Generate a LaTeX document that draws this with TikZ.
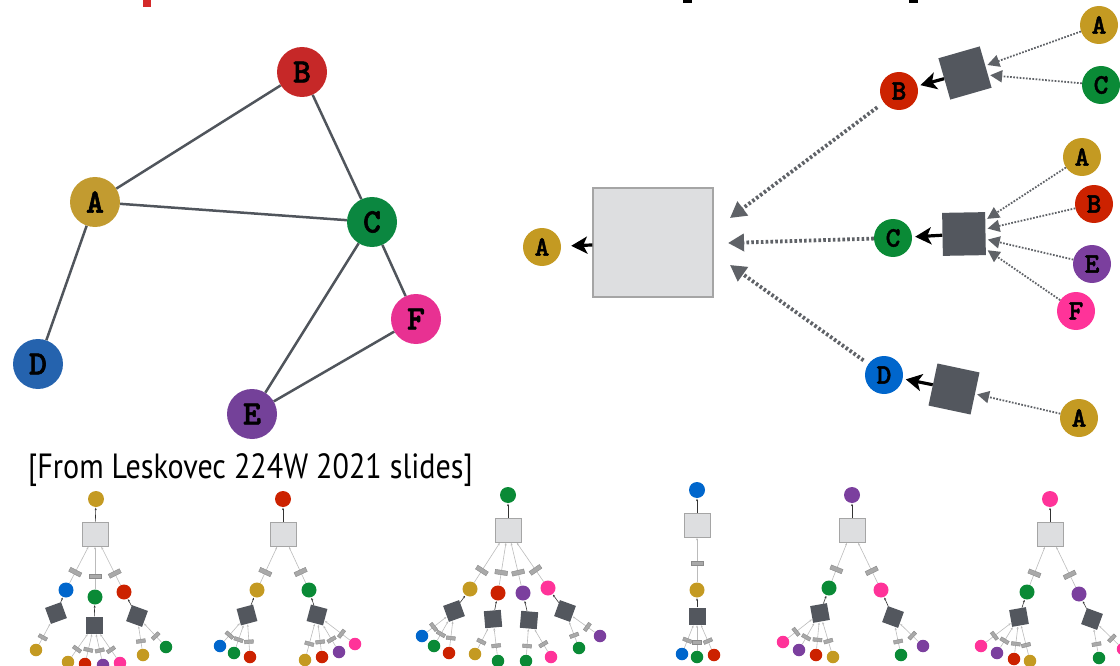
\documentclass[tikz,border=0pt]{standalone}
\usepackage{fontspec}
\usetikzlibrary{arrows.meta}
\newfontfamily\capfont{PT Sans}[FakeStretch=0.86]
\newfontfamily\lettfont{lmmonolt10-bold.otf}[FakeBold=1.8]
% left graph colours
\definecolor{lA}{HTML}{C29B30}
\definecolor{lB}{HTML}{C62828}
\definecolor{lC}{HTML}{0B8740}
\definecolor{lD}{HTML}{2563AE}
\definecolor{lE}{HTML}{744199}
\definecolor{lF}{HTML}{E83192}
% right / mini colours
\definecolor{mG}{HTML}{C49A22}
\definecolor{mB}{HTML}{0066CC}
\definecolor{mGr}{HTML}{0A8A36}
\definecolor{mR}{HTML}{CC2200}
\definecolor{mP}{HTML}{7B3F9E}
\definecolor{mK}{HTML}{FF3399}
\definecolor{edgec}{HTML}{50555C}
\definecolor{bigf}{HTML}{DDDEE0}
\definecolor{bigb}{HTML}{A5A5A5}
\definecolor{aggc}{HTML}{53575E}
\definecolor{dotc}{HTML}{5F6267}
\definecolor{meg}{HTML}{BBBBBB}
\definecolor{mkf}{HTML}{A9A9A9}
\definecolor{mkd}{HTML}{8A8A8A}
\definecolor{redmark}{HTML}{D42A2A}
\begin{document}
\begin{tikzpicture}[x=1pt,y=-1pt,
  gn/.style={circle, fill=#1, minimum size=50pt, inner sep=0pt, font=\lettfont\fontsize{34}{34}\selectfont},
  cn/.style={circle, fill=#1, minimum size=38pt, inner sep=0pt, font=\lettfont\fontsize{28}{28}\selectfont},
  ge/.style={draw=edgec, line width=2.5pt},
  big/.style={draw=bigb, fill=bigf, line width=1.2pt, minimum width=120pt, minimum height=109pt, inner sep=0pt},
  agg/.style={fill=aggc, minimum size=43pt, inner sep=0pt},
  solidarr/.style={draw=black, line width=3.2pt, -{Stealth[length=16pt,width=17pt,inset=4pt]}, shorten >=3pt},
  bigdot/.style={draw=dotc, line width=3.8pt, dash pattern=on 2.6pt off 2.2pt, -{Triangle[length=16pt,width=17pt]}},
  smalldot/.style={draw=dotc, line width=1.8pt, dash pattern=on 1.7pt off 1.5pt, -{Triangle[length=12pt,width=12pt]}, shorten >=2pt},
  mr/.style={circle, fill=#1, minimum size=16pt, inner sep=0pt},
  mc/.style={circle, fill=#1, minimum size=15pt, inner sep=0pt},
  mg/.style={circle, fill=#1, minimum size=12.5pt, inner sep=0pt},
  ms/.style={draw=bigb, fill=bigf, line width=0.8pt, minimum width=26pt, minimum height=24pt, inner sep=0pt},
  md/.style={fill=aggc, minimum size=17pt, inner sep=0pt},
  mk/.style={fill=mkf, draw=mkd, line width=0.4pt, minimum width=4.5pt, minimum height=12.5pt, inner sep=0pt, sloped, pos=0.3},
  mks/.style={fill=mkf, draw=mkd, line width=0.4pt, minimum width=3.6pt, minimum height=9pt, inner sep=0pt, sloped, pos=0.33},
  me/.style={draw=meg, line width=0.6pt, -{Stealth[length=2.5pt,width=2pt]}, shorten >=0.5pt},
  mup/.style={draw=black!80, line width=0.6pt, -{Stealth[length=2.5pt,width=2pt]}, shorten >=0.5pt},
]
\useasboundingbox (0,0) rectangle (1120,666);
\clip (0,0) rectangle (1120,666);

% cropped remnants at the top
\fill[redmark] (143,0) rectangle (151,7);
\fill[black] (683,0) rectangle (692,3);
\fill[black] (909,0) rectangle (918,3);

% ---------- left graph ----------
\node[gn=lB] (B) at (302,72) {B};
\node[gn=lA] (A) at (95,202) {A};
\node[gn=lC] (C) at (372,222) {C};
\node[gn=lF] (F) at (416,319) {F};
\node[gn=lE] (E) at (252,414) {E};
\node[gn=lD] (D) at (38,364) {D};
\draw[ge] (A) -- (B);
\draw[ge] (A) -- (C);
\draw[ge] (A) -- (D);
\draw[ge] (B) -- (C);
\draw[ge] (C) -- (E);
\draw[ge] (C) -- (F);
\draw[ge] (E) -- (F);

\node[anchor=base west, inner sep=0pt, font=\capfont\fontsize{35}{40}\selectfont] (cap) at (28,478) {[From Leskovec 224W 2021 slides]};

% ---------- computation graph ----------
\node[big] (big) at (653,242.5) {};
\node[cn=mG] (tA) at (542,247) {A};
\draw[solidarr, shorten >=10pt] (big) -- (tA);

\coordinate (tB) at (730,218);
\coordinate (tC) at (728,243);
\coordinate (tD) at (730,265);

% B branch
\node[cn=mR] (rB) at (899,91) {B};
\node[agg, rotate=16] (gB) at (965,73) {};
\node[cn=mG] (rBA) at (1099,25) {A};
\node[cn=mGr] (rBC) at (1101,85) {C};
\draw[solidarr] (gB) -- (rB);
\draw[smalldot] (rBA) -- (gB);
\draw[smalldot] (rBC) -- (gB);
\draw[bigdot, shorten <=8pt] (rB) -- (tB);

% C branch
\node[cn=mGr] (rC) at (893,238) {C};
\node[agg, rotate=1] (gC) at (964,234) {};
\node[cn=mG] (rCA) at (1082,157) {A};
\node[cn=mR] (rCB) at (1094,204) {B};
\node[cn=mP] (rCE) at (1092,264) {E};
\node[cn=mK] (rCF) at (1076,311) {F};
\draw[solidarr] (gC) -- (rC);
\draw[smalldot] (rCA) -- (gC);
\draw[smalldot] (rCB) -- (gC);
\draw[smalldot] (rCE) -- (gC);
\draw[smalldot] (rCF) -- (gC);
\draw[bigdot] (rC) -- (tC);

% D branch
\node[cn=mB] (rD) at (884,375) {D};
\node[agg, rotate=-12] (gD) at (954,389) {};
\node[cn=mG] (rDA) at (1079,418) {A};
\draw[solidarr] (gD) -- (rD);
\draw[smalldot] (rDA) -- (gD);
\draw[bigdot, shorten <=6pt] (rD) -- (tD);

% ---------- mini tree 1 (A) ----------
\node[mr=mG] (t1r) at (96,499) {};
\node[ms] (t1s) at (95,534) {};
\node[mc=mB] (t1a) at (66,590) {};
\node[mc=mGr] (t1b) at (95,597) {};
\node[mc=mR] (t1c) at (124,592) {};
\node[md, rotate=20] (t1da) at (56,613) {};
\node[md] (t1db) at (94,625) {};
\node[md, rotate=-20] (t1dc) at (137,616) {};
\node[mg=mG] (t1a1) at (36,650) {};
\node[mg=mG] (t1b1) at (68,662) {};
\node[mg=mR] (t1b2) at (85,664) {};
\node[mg=mP] (t1b3) at (103,665) {};
\node[mg=mK] (t1b4) at (120,663) {};
\node[mg=mG] (t1c1) at (143,655) {};
\node[mg=mGr] (t1c2) at (166,647) {};
\draw[mup] (t1s) -- (t1r);
\foreach \c in {t1a,t1b,t1c} \draw[me] (\c) -- node[mk]{} (t1s);
\draw[mup] (t1da) -- (t1a);
\draw[mup] (t1db) -- (t1b);
\draw[mup] (t1dc) -- (t1c);
\draw[me] (t1a1) -- node[mks]{} (t1da);
\foreach \c in {t1b1,t1b2,t1b3,t1b4} \draw[me] (\c) -- node[mks]{} (t1db);
\foreach \c in {t1c1,t1c2} \draw[me] (\c) -- node[mks]{} (t1dc);

% ---------- mini tree 2 (B) ----------
\node[mr=mR] (t2r) at (283,499) {};
\node[ms] (t2s) at (283,534) {};
\node[mc=mG] (t2a) at (257,590) {};
\node[mc=mGr] (t2b) at (309,590) {};
\node[md, rotate=15] (t2da) at (247,615) {};
\node[md, rotate=-15] (t2db) at (317,615) {};
\node[mg=mB] (t2a1) at (220,646) {};
\node[mg=mGr] (t2a2) at (234,653) {};
\node[mg=mR] (t2a3) at (250,657) {};
\node[mg=mG] (t2b1) at (305,660) {};
\node[mg=mR] (t2b2) at (322,657) {};
\node[mg=mP] (t2b3) at (339,652) {};
\node[mg=mK] (t2b4) at (355,644) {};
\draw[mup] (t2s) -- (t2r);
\foreach \c in {t2a,t2b} \draw[me] (\c) -- node[mk]{} (t2s);
\draw[mup] (t2da) -- (t2a);
\draw[mup] (t2db) -- (t2b);
\foreach \c in {t2a1,t2a2,t2a3} \draw[me] (\c) -- node[mks]{} (t2da);
\foreach \c in {t2b1,t2b2,t2b3,t2b4} \draw[me] (\c) -- node[mks]{} (t2db);

% ---------- mini tree 3 (C) ----------
\node[mr=mGr] (t3r) at (508,495) {};
\node[ms] (t3s) at (508,530) {};
\node[mc=mG] (t3a) at (470,589) {};
\node[mc=mR] (t3b) at (498,593) {};
\node[mc=mP] (t3c) at (523,593) {};
\node[mc=mK] (t3d) at (548,588) {};
\node[md, rotate=20] (t3da) at (454,611) {};
\node[md, rotate=5] (t3db) at (493,619) {};
\node[md, rotate=-5] (t3dc) at (529,620) {};
\node[md, rotate=-20] (t3dd) at (565,611) {};
\node[mg=mB] (t3a1) at (422,636) {};
\node[mg=mGr] (t3a2) at (434,646) {};
\node[mg=mR] (t3a3) at (449,653) {};
\node[mg=mG] (t3b1) at (475,654) {};
\node[mg=mGr] (t3b2) at (498,661) {};
\node[mg=mGr] (t3c1) at (526,661) {};
\node[mg=mK] (t3c2) at (551,657) {};
\node[mg=mGr] (t3d1) at (579,648) {};
\node[mg=mP] (t3d2) at (600,636) {};
\draw[mup] (t3s) -- (t3r);
\foreach \c in {t3a,t3b,t3c,t3d} \draw[me] (\c) -- node[mk]{} (t3s);
\draw[mup] (t3da) -- (t3a);
\draw[mup] (t3db) -- (t3b);
\draw[mup] (t3dc) -- (t3c);
\draw[mup] (t3dd) -- (t3d);
\foreach \c in {t3a1,t3a2,t3a3} \draw[me] (\c) -- node[mks]{} (t3da);
\foreach \c in {t3b1,t3b2} \draw[me] (\c) -- node[mks]{} (t3db);
\foreach \c in {t3c1,t3c2} \draw[me] (\c) -- node[mks]{} (t3dc);
\foreach \c in {t3d1,t3d2} \draw[me] (\c) -- node[mks]{} (t3dd);

% ---------- mini tree 4 (D) ----------
\node[mr=mB] (t4r) at (697,490) {};
\node[ms] (t4s) at (697,525) {};
\node[mc=mG] (t4a) at (697,590) {};
\node[md] (t4da) at (697,616) {};
\node[mg=mB] (t4a1) at (682,654) {};
\node[mg=mGr] (t4a2) at (697,657) {};
\node[mg=mR] (t4a3) at (714,655) {};
\draw[mup] (t4s) -- (t4r);
\draw[me] (t4a) -- node[mk, pos=0.43]{} (t4s);
\draw[mup] (t4da) -- (t4a);
\foreach \c in {t4a1,t4a2,t4a3} \draw[me] (\c) -- node[mks]{} (t4da);

% ---------- mini tree 5 (E) ----------
\node[mr=mP] (t5r) at (852,495) {};
\node[ms] (t5s) at (852,530) {};
\node[mc=mGr] (t5a) at (829,588) {};
\node[mc=mK] (t5b) at (881,590) {};
\node[md, rotate=10] (t5da) at (820,613) {};
\node[md, rotate=-20] (t5db) at (893,617) {};
\node[mg=mK] (t5a1) at (783,642) {};
\node[mg=mP] (t5a2) at (799,650) {};
\node[mg=mR] (t5a3) at (816,655) {};
\node[mg=mG] (t5a4) at (833,657) {};
\node[mg=mGr] (t5b1) at (901,655) {};
\node[mg=mP] (t5b2) at (923,646) {};
\draw[mup] (t5s) -- (t5r);
\foreach \c in {t5a,t5b} \draw[me] (\c) -- node[mk]{} (t5s);
\draw[mup] (t5da) -- (t5a);
\draw[mup] (t5db) -- (t5b);
\foreach \c in {t5a1,t5a2,t5a3,t5a4} \draw[me] (\c) -- node[mks]{} (t5da);
\foreach \c in {t5b1,t5b2} \draw[me] (\c) -- node[mks]{} (t5db);

% ---------- mini tree 6 (F) ----------
\node[mr=mK] (t6r) at (1050,499) {};
\node[ms] (t6s) at (1050,534) {};
\node[mc=mGr] (t6a) at (1027,592) {};
\node[mc=mP] (t6b) at (1079,594) {};
\node[md, rotate=10] (t6da) at (1019,617) {};
\node[md, rotate=-20] (t6db) at (1092,619) {};
\node[mg=mK] (t6a1) at (981,646) {};
\node[mg=mP] (t6a2) at (997,653) {};
\node[mg=mR] (t6a3) at (1014,659) {};
\node[mg=mG] (t6a4) at (1030,661) {};
\node[mg=mGr] (t6b1) at (1099,658) {};
\node[mg=mK] (t6b2) at (1123,649) {};
\draw[mup] (t6s) -- (t6r);
\foreach \c in {t6a,t6b} \draw[me] (\c) -- node[mk]{} (t6s);
\draw[mup] (t6da) -- (t6a);
\draw[mup] (t6db) -- (t6b);
\foreach \c in {t6a1,t6a2,t6a3,t6a4} \draw[me] (\c) -- node[mks]{} (t6da);
\foreach \c in {t6b1,t6b2} \draw[me] (\c) -- node[mks]{} (t6db);
\end{tikzpicture}
\end{document}
